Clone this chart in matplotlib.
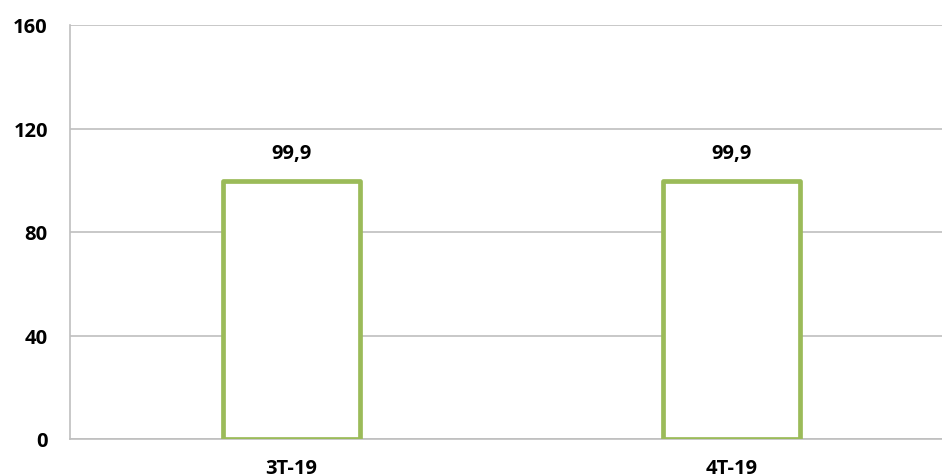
import matplotlib
matplotlib.use("Agg")
import matplotlib.pyplot as plt

categories = ["3T-19", "4T-19"]
values = [99.9, 99.9]
labels = ["99,9", "99,9"]
yticks = [0, 40, 80, 120, 160]

plt.rcParams['font.family'] = ['Open Sans', 'DejaVu Sans']

W, H = 942, 477
fig = plt.figure(figsize=(W/100, H/100), dpi=100)
ax = fig.add_axes([70/W, 1-440/H, (942-70)/W, (440-26)/H])

x = list(range(len(categories)))
bars = ax.bar(x, values, width=0.311, facecolor='white', edgecolor='#9BBB59', linewidth=3.4, zorder=3)
for b in bars:
    b.set_joinstyle('round')
for xi, v, l in zip(x, values, labels):
    ax.text(xi, v + 10.5, l, ha='center', va='center', fontsize=14.5, fontweight='bold', color='black')

ax.set_xlim(-0.503, 1.478)
ax.set_ylim(0, 160)
ax.set_yticks(yticks)
ax.set_yticklabels([str(t) for t in yticks], fontsize=14.5, fontweight='bold')
ax.set_xticks(x)
ax.set_xticklabels(categories, fontsize=14.5, fontweight='bold')
ax.tick_params(axis='both', length=0)
ax.tick_params(axis='y', pad=16)
ax.tick_params(axis='x', pad=14)
ax.grid(axis='y', color='#BFBFBF', linewidth=1.2, zorder=0)
for s in ['top', 'right']:
    ax.spines[s].set_visible(False)
ax.spines['left'].set_color('#BFBFBF')
ax.spines['bottom'].set_color('#BFBFBF')
ax.spines['left'].set_linewidth(1.2)
ax.spines['bottom'].set_linewidth(1.2)

fig.savefig("out.png", dpi=100)
